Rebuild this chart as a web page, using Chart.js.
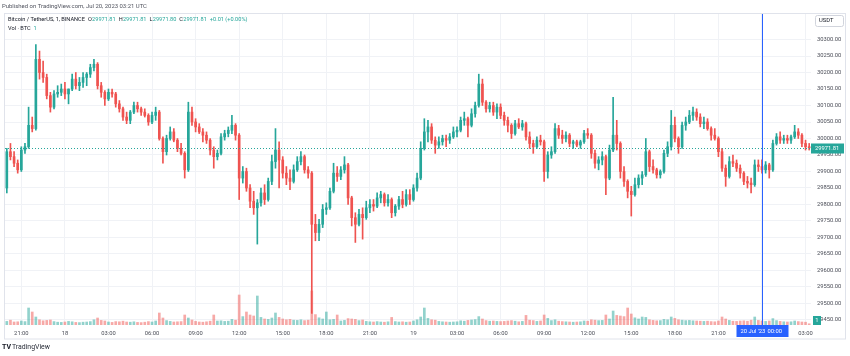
<!DOCTYPE html>
<html><head><meta charset="utf-8">
<script src="https://cdn.jsdelivr.net/npm/chart.js@4/dist/chart.umd.min.js"></script>
<style>html,body{margin:0;padding:0;background:#fff;}canvas{display:block;}</style>
</head><body>
<canvas id="c" width="850" height="356"></canvas>
<script>
// 15-minute candles, BTC/USDT, starting Jul 17 2023 20:00 UTC
const startTimeUTC = Date.UTC(2023, 6, 17, 20, 0);
const stepMinutes = 15;

const opens = [
29850,29960,29945,29925,29905,29965,29975,30040,30030,30240,
30200,30185,30130,30095,30135,30140,30150,30135,30150,30180,
30160,30170,30185,30195,30215,30225,30160,30140,30120,30140,
30135,30105,30090,30065,30055,30080,30100,30090,30080,30070,
30050,30070,30080,30000,29960,30000,30020,29995,29970,29955,
29905,30080,30050,30035,30020,30010,29995,29965,29945,29955,
30005,30015,30025,30040,30010,29880,29900,29850,29810,29790,
29805,29835,29815,29870,29930,29965,29935,29895,29880,29870,
29905,29930,29945,29905,29895,29740,29715,29740,29785,29790,
29840,29895,29885,29905,29920,29820,29760,29740,29770,29760,
29790,29800,29795,29820,29830,29805,29815,29775,29795,29815,
29800,29830,29815,29850,29880,29970,30020,30035,29995,29980,
29990,30000,29995,30005,30020,30025,30055,30060,30040,30075,
30100,30165,30110,30090,30100,30080,30095,30070,30055,30040,
30015,30045,30035,30045,30005,29985,29975,29995,29990,29900,
29950,29960,30030,30010,30000,30010,29985,29990,29980,29990,
30015,30010,29955,29925,29935,29945,29880,29965,30010,29985,
29900,29870,29840,29830,29860,29880,29890,29960,29915,29905,
29890,29900,29955,29975,30040,30000,29975,30040,30050,30070,
30080,30065,30045,30050,30030,30010,30000,29960,29910,29885,
29930,29925,29910,29895,29870,29865,29860,29920,29915,29905,
29920,29905,29985,30005,29995,30000,29995,30005,30020,30010,29985,29975];

const highs = [
29970,29985,29960,29935,29975,29985,30095,30065,30285,30265,
30235,30195,30140,30145,30160,30165,30170,30150,30195,30200,
30185,30200,30200,30225,30240,30230,30170,30145,30150,30150,
30140,30115,30095,30080,30085,30110,30110,30095,30090,30075,
30080,30095,30085,30005,30010,30035,30030,30000,29985,29960,
30110,30095,30060,30045,30030,30020,30000,29975,29965,30015,
30025,30035,30070,30045,30015,29915,29910,29860,29840,29815,
29850,29860,29880,29950,30030,29990,29945,29915,29905,29920,
29945,29960,29950,29915,29900,29770,29755,29800,29805,29850,
29925,29915,29915,29945,29925,29825,29775,29785,29790,29810,
29815,29815,29835,29840,29835,29830,29820,29800,29825,29840,
29845,29845,29860,29895,29990,30060,30055,30045,30005,30005,
30010,30010,30015,30035,30035,30065,30080,30065,30090,30110,
30195,30180,30115,30110,30110,30105,30105,30080,30065,30045,
30055,30060,30055,30050,30020,29995,30005,30010,29995,29960,
29975,30045,30040,30025,30020,30015,29995,29995,29995,30025,
30030,30015,29965,29945,29960,29950,29980,30125,30055,29990,
29915,29875,29855,29880,29890,29900,30000,29965,29935,29910,
29905,29965,29990,30085,30065,30005,30050,30065,30085,30095,
30090,30075,30065,30060,30035,30030,30005,29970,29920,29945,
29950,29935,29920,29900,29885,29880,29935,29935,29935,29930,
29925,29995,30015,30020,30010,30010,30010,30040,30030,30015,29995,29985];

const lows = [
29835,29935,29915,29895,29900,29955,29970,30020,30025,30180,
30170,30120,30080,30090,30125,30130,30120,30105,30145,30150,
30145,30155,30160,30185,30205,30150,30125,30100,30115,30125,
30095,30080,30055,30045,30045,30075,30080,30070,30065,30040,
30045,30055,29995,29925,29950,29995,29990,29960,29950,29880,
29900,30040,30020,30015,29990,29985,29950,29910,29935,29950,
29995,30005,30015,29995,29815,29865,29840,29790,29770,29680,
29795,29800,29810,29860,29910,29850,29880,29860,29845,29865,
29900,29920,29895,29880,29470,29690,29690,29730,29770,29785,
29835,29870,29875,29895,29800,29735,29685,29735,29695,29755,
29775,29780,29790,29805,29795,29795,29760,29765,29785,29790,
29795,29800,29810,29840,29875,29965,29990,29985,29955,29970,
29980,29975,29985,30000,30005,30020,30040,30005,30035,30065,
30095,30100,30080,30080,30070,30060,30060,30040,30020,30000,
30010,30030,30025,29995,29970,29955,29970,29980,29870,29880,
29940,29955,30000,29985,29990,29975,29970,29975,29970,29985,
30000,29940,29910,29905,29920,29830,29875,29960,29965,29880,
29855,29820,29765,29825,29850,29860,29885,29900,29895,29880,
29880,29895,29945,29965,29990,29955,29970,30025,30045,30055,
30055,30035,30030,30025,29995,29995,29945,29900,29855,29880,
29915,29900,29880,29860,29850,29835,29855,29900,29895,29895,
29880,29900,29980,29985,29985,29985,29985,30000,30000,29975,29965,29965];

const closes = [
29960,29945,29925,29905,29965,29975,30040,30030,30240,30200,
30185,30130,30095,30135,30140,30150,30135,30150,30180,30160,
30170,30185,30195,30215,30225,30160,30140,30120,30140,30135,
30105,30090,30065,30055,30080,30100,30090,30080,30070,30050,
30070,30080,30000,29960,30000,30020,29995,29970,29955,29905,
30080,30050,30035,30020,30010,29995,29965,29945,29955,30005,
30015,30025,30040,30010,29880,29900,29850,29810,29790,29805,
29835,29815,29870,29930,29965,29935,29895,29880,29870,29905,
29930,29945,29905,29895,29740,29715,29740,29785,29790,29840,
29895,29885,29905,29920,29820,29760,29740,29770,29760,29790,
29800,29795,29820,29830,29805,29815,29775,29795,29815,29800,
29830,29815,29850,29880,29970,30020,30035,29995,29980,29990,
30000,29995,30005,30020,30025,30055,30060,30040,30075,30100,
30165,30110,30090,30100,30080,30095,30070,30055,30040,30015,
30045,30035,30045,30005,29985,29975,29995,29990,29900,29950,
29960,30030,30010,30000,30010,29985,29990,29980,29990,30015,
30010,29955,29925,29935,29945,29880,29965,30010,29985,29900,
29870,29840,29830,29860,29880,29890,29960,29915,29905,29890,
29900,29955,29975,30040,30000,29975,30040,30050,30070,30080,
30065,30045,30050,30030,30010,30000,29960,29910,29885,29930,
29925,29910,29895,29870,29865,29860,29920,29915,29905,29920,
29905,29985,30005,29995,30000,29995,30005,30020,30010,29985,29975,29971.81];

const volumes = [
180,240,150,160,200,170,850,650,400,260,
210,230,250,170,140,130,150,180,160,130,
120,140,150,170,260,350,230,200,150,130,
170,160,190,150,140,160,130,120,140,170,
150,200,600,350,220,180,150,160,170,500,
350,250,180,150,140,160,190,500,200,210,
180,190,280,240,1500,420,650,500,450,1450,
380,300,280,350,600,380,300,260,280,240,
230,260,220,240,1700,520,360,300,650,260,
280,500,200,230,320,300,280,220,250,180,
160,150,170,150,140,160,380,170,150,160,
140,150,200,260,400,850,330,260,240,180,
160,150,140,150,160,210,190,230,250,270,
420,300,220,190,200,180,170,180,200,220,
190,160,180,480,240,220,180,200,500,330,
220,260,190,170,160,150,140,150,160,200,
190,260,240,220,230,500,300,700,480,450,
420,850,550,360,300,400,380,260,230,210,
220,280,260,400,330,260,240,220,230,210,
200,190,180,190,170,160,200,400,300,230,
190,180,200,210,190,240,400,230,200,180,
200,320,220,180,160,150,160,200,170,150,140,60];

const priceTicks = [29450,29500,29550,29600,29650,29700,29750,29800,29850,29900,29950,30000,30050,30100,30150,30200,30250,30300];
const crosshairTime = '2023-07-20T00:00';
const headerText = 'Published on TradingView.com, Jul 20, 2023 03:21 UTC';
const symbolText = 'Bitcoin / TetherUS, 1, BINANCE';
const legendLetters = ['O','H','L','C'];
const legendValues = ['29971.81','29971.81','29971.80','29971.81'];
const legendChange = '+0.01 (+0.00%)';
const volLegend = ['Vol · BTC', '1'];

const categories = closes.map((_, i) => new Date(startTimeUTC + i * stepMinutes * 60000).toISOString().slice(0, 16));

const UP = '#26a69a', DOWN = '#ef5350';
const isUp = closes.map((c, i) => c >= opens[i]);
const candleColors = isUp.map(u => u ? UP : DOWN);
const volColors = isUp.map(u => u ? 'rgba(38,166,154,0.5)' : 'rgba(239,83,80,0.5)');

const FONT = 'Roboto, "Liberation Sans", sans-serif';
Chart.defaults.font.family = FONT;

function fmtTick(idx) {
  const d = categories[idx];
  if (!d) return '';
  const hh = d.slice(11, 13), mm = d.slice(14, 16);
  if (d === crosshairTime) return '';
  if (hh === '00' && mm === '00') return String(+d.slice(8, 10));
  return hh + ':' + mm;
}

// pick a font size so that a text spans a given width
function fitFont(ctx, text, width) {
  ctx.font = '10px ' + FONT;
  const w = ctx.measureText(text).width;
  return (10 * width / w).toFixed(2) + 'px ' + FONT;
}

const overlay = {
  id: 'tvOverlay',
  beforeDraw(chart) {
    const ctx = chart.ctx;
    ctx.save();
    ctx.fillStyle = '#ffffff';
    ctx.fillRect(0, 0, chart.width, chart.height);
    ctx.restore();
  },
  afterDraw(chart) {
    const ctx = chart.ctx;
    const xs = chart.scales.x, ys = chart.scales.y;
    const ca = chart.chartArea;
    ctx.save();
    // frame
    ctx.strokeStyle = '#e0e3eb';
    ctx.lineWidth = 1;
    ctx.strokeRect(4.5, 13.5, 841, 325.5);
    // header
    ctx.textBaseline = 'middle';
    ctx.textAlign = 'left';
    ctx.font = fitFont(ctx, headerText, 145);
    ctx.fillStyle = '#50535e';
    ctx.fillText(headerText, 2, 7);
    // legend: lay pieces out one after another
    ctx.font = fitFont(ctx, symbolText, 77);
    let x = 8;
    ctx.fillStyle = '#131722';
    ctx.fillText(symbolText, x, 20);
    x += ctx.measureText(symbolText).width + 3;
    legendLetters.forEach((L, k) => {
      ctx.fillStyle = '#131722';
      ctx.fillText(L, x, 20);
      x += ctx.measureText(L).width + 0.3;
      ctx.fillStyle = UP;
      ctx.fillText(legendValues[k], x, 20);
      x += ctx.measureText(legendValues[k]).width + 3;
    });
    ctx.fillStyle = UP;
    ctx.fillText(legendChange, x, 20);
    ctx.fillStyle = '#131722';
    ctx.fillText(volLegend[0], 8, 29);
    ctx.fillStyle = UP;
    ctx.fillText(volLegend[1], 8 + ctx.measureText(volLegend[0]).width + 3, 29);
    // USDT box
    ctx.font = '5.8px ' + FONT;
    ctx.fillStyle = '#ffffff';
    ctx.strokeStyle = '#d1d4dc';
    ctx.beginPath();
    ctx.roundRect(815.5, 15.5, 28, 11, 2);
    ctx.fill(); ctx.stroke();
    ctx.fillStyle = '#131722';
    ctx.fillText('USDT', 819, 21);
    // current price line
    const last = closes[closes.length - 1];
    const py = Math.round(ys.getPixelForValue(last)) + 0.5;
    ctx.strokeStyle = UP;
    ctx.setLineDash([1, 2]);
    ctx.beginPath();
    ctx.moveTo(ca.left, py); ctx.lineTo(ca.right, py);
    ctx.stroke();
    ctx.setLineDash([]);
    ctx.fillStyle = UP;
    ctx.fillRect(811, py - 5, 33, 10);
    ctx.fillStyle = '#ffffff';
    ctx.fillText(last.toFixed(2), 815, py + 0.5);
    // volume label
    ctx.fillStyle = UP;
    ctx.fillRect(813, 316, 8, 9);
    ctx.fillStyle = '#ffffff';
    ctx.textAlign = 'center';
    ctx.fillText('1', 817, 320.5);
    // crosshair
    const ci = categories.indexOf(crosshairTime);
    const cx = Math.round(xs.getPixelForValue(ci)) + 0.5;
    ctx.strokeStyle = '#2962ff';
    ctx.beginPath();
    ctx.moveTo(cx, ca.top); ctx.lineTo(cx, ca.bottom);
    ctx.stroke();
    ctx.fillStyle = '#2962ff';
    ctx.fillRect(cx - 26, ca.bottom, 52, 12);
    ctx.fillStyle = '#ffffff';
    ctx.textAlign = 'left';
    ctx.fillText("20 Jul '23", cx - 22, ca.bottom + 6.5);
    ctx.fillText('00:00', cx + 5, ca.bottom + 6.5);
    // TradingView logo
    ctx.fillStyle = '#131722';
    ctx.font = 'bold 7px ' + FONT;
    ctx.fillText('TV', 2, 347.5);
    ctx.font = fitFont(ctx, 'TradingView', 38);
    ctx.fillStyle = '#2a2e39';
    ctx.fillText('TradingView', 12, 347.5);
    ctx.restore();
  }
};

new Chart(document.getElementById('c'), {
  type: 'bar',
  data: {
    labels: categories,
    datasets: [
      {
        label: 'Body',
        data: opens.map((o, i) => [Math.min(o, closes[i]), Math.max(o, closes[i])]),
        backgroundColor: candleColors,
        barThickness: 2,
        minBarLength: 1,
        grouped: false,
        yAxisID: 'y',
        order: 1
      },
      {
        label: 'Wick',
        data: lows.map((l, i) => [l, highs[i]]),
        backgroundColor: candleColors,
        barThickness: 1,
        grouped: false,
        yAxisID: 'y',
        order: 2
      },
      {
        label: 'Volume',
        data: volumes,
        backgroundColor: volColors,
        barThickness: 2,
        grouped: false,
        yAxisID: 'yv',
        order: 3
      }
    ]
  },
  options: {
    responsive: false,
    animation: false,
    devicePixelRatio: 1,
    layout: { padding: { left: 5, top: 14, right: 5, bottom: 17 } },
    plugins: { legend: { display: false }, tooltip: { enabled: false } },
    scales: {
      x: {
        type: 'category',
        offset: true,
        grid: { offset: false, color: '#f0f2f6', drawTicks: false },
        border: { display: false },
        ticks: {
          autoSkip: false, maxRotation: 0, padding: 5,
          color: '#4a4d57', font: { size: 5.8 },
          callback: (v) => fmtTick(v)
        },
        afterBuildTicks: (axis) => {
          axis.ticks = axis.ticks.filter(t => {
            const d = categories[t.value];
            return d.slice(14, 16) === '00' && (+d.slice(11, 13)) % 3 === 0;
          });
        },
        afterFit: (axis) => { axis.height = 14; }
      },
      y: {
        type: 'linear',
        position: 'right',
        min: 29434.8,
        max: 30377.3,
        grid: { color: '#f0f2f6', drawTicks: false },
        border: { display: false },
        ticks: {
          padding: 6, color: '#4a4d57', font: { size: 5.8 },
          callback: (v) => Number(v).toFixed(2)
        },
        afterBuildTicks: (axis) => { axis.ticks = priceTicks.map(v => ({ value: v })); },
        afterFit: (axis) => { axis.width = 34; }
      },
      yv: {
        type: 'linear',
        display: false,
        min: 0,
        max: 15550
      }
    }
  },
  plugins: [overlay]
});
</script>
</body></html>
